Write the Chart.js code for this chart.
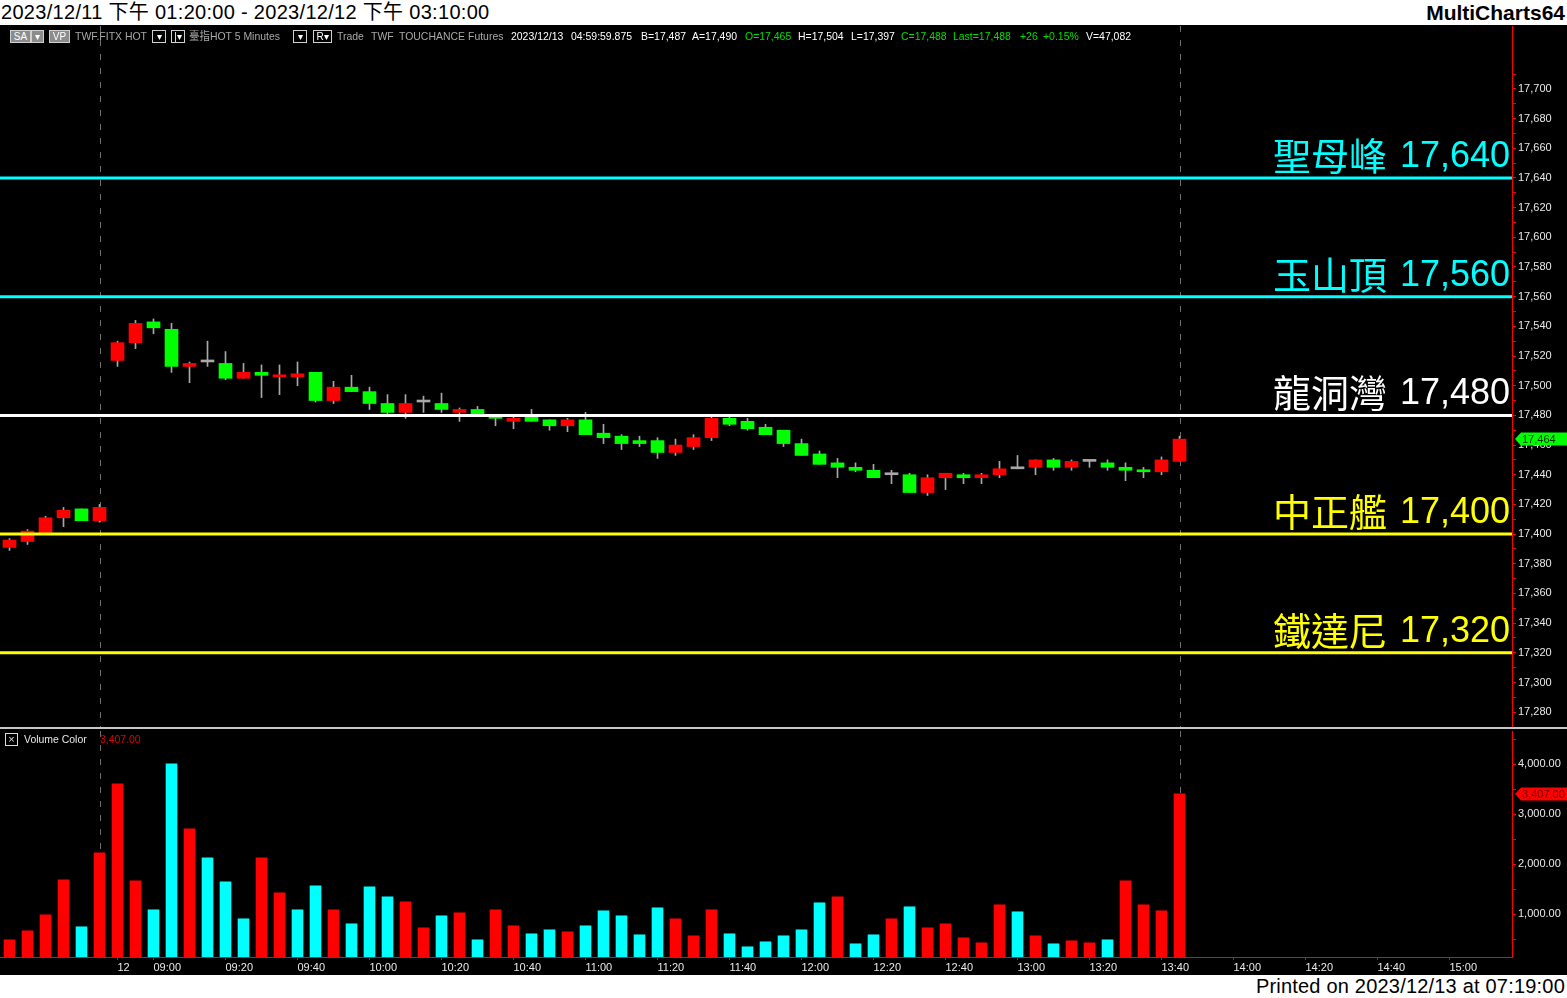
<!DOCTYPE html>
<html>
<head>
<meta charset="utf-8">
<script src="https://cdn.jsdelivr.net/npm/chart.js@4.4.0/dist/chart.umd.min.js"></script>
<style>
body { margin:0; width:1567px; height:998px; background:#fff; position:relative; overflow:hidden; font-family:'Liberation Sans', Arial, sans-serif; }
#title { position:absolute; left:1px; top:0; height:25px; line-height:25px; font-size:20px; letter-spacing:0.3px; color:#000; font-family:'Liberation Sans','Noto Sans CJK TC',sans-serif; }
#brand { position:absolute; right:2px; top:0; height:25px; line-height:25px; font-size:21px; font-weight:bold; color:#000; }
#main { position:absolute; left:0; top:25px; width:1567px; height:950px; background:#000; }
#footer { position:absolute; right:2px; top:975px; height:23px; line-height:23px; font-size:20px; letter-spacing:0.2px; color:#000; }
canvas { position:absolute; left:0; }
#priceCanvas { top:25px; }
#volCanvas { top:729px; }
#sep { position:absolute; left:0; top:727px; width:1567px; height:2px; background:#c8c8c8; }
.info { position:absolute; top:30px; height:13px; line-height:13px; font-size:11px; white-space:nowrap; transform:scaleX(0.95); transform-origin:left center; font-family:'Liberation Sans','Noto Sans CJK TC',sans-serif; }
.box { position:absolute; top:30px; height:11px; line-height:11px; font-size:10px; text-align:center; border:1px solid #d0d0d0; color:#fff; }
</style>
</head>
<body>
<div id="title">2023/12/11 下午 01:20:00 - 2023/12/12 下午 03:10:00</div>
<div id="brand">MultiCharts64</div>
<div id="main"></div>
<canvas id="priceCanvas" width="1567" height="704"></canvas>
<div id="sep"></div>
<canvas id="volCanvas" width="1567" height="246"></canvas>
<div id="footer">Printed on 2023/12/13 at 07:19:00</div>
<div id="overlay"></div>
<script>
// Data candle 5 menit (11/12 sore + sesi 12/12)
const opens  = [17391,17395,17401,17411,17417,17409,17517,17529,17543,17538,17513,17516,17515,17505,17509,17506,17506,17509,17490,17499,17496,17488,17482,17489,17488,17482,17484,17480,17476,17479,17477,17473,17477,17468,17466,17463,17463,17455,17459,17465,17478,17476,17472,17470,17461,17454,17448,17445,17443,17440,17440,17428,17438,17440,17438,17440,17444,17445,17450,17445,17449,17448,17445,17443,17442,17449];
const highs  = [17397,17403,17412,17418,17417,17420,17530,17544,17545,17542,17516,17530,17523,17515,17514,17514,17516,17509,17503,17507,17499,17494,17494,17493,17495,17485,17486,17480,17479,17484,17477,17478,17482,17474,17467,17466,17465,17464,17467,17479,17479,17478,17474,17470,17464,17456,17451,17448,17447,17443,17441,17440,17441,17441,17441,17449,17453,17450,17451,17450,17450,17450,17448,17445,17452,17466];
const lows   = [17389,17393,17400,17405,17409,17408,17513,17525,17535,17509,17502,17513,17504,17505,17492,17494,17500,17489,17488,17496,17484,17481,17478,17482,17482,17476,17480,17473,17471,17476,17470,17469,17467,17461,17457,17459,17451,17453,17457,17463,17473,17470,17467,17459,17453,17447,17438,17442,17438,17434,17428,17426,17430,17434,17434,17438,17444,17440,17443,17443,17445,17443,17436,17438,17440,17449];
const closes = [17396,17402,17411,17416,17409,17418,17529,17542,17539,17513,17515,17516,17505,17509,17507,17507,17508,17490,17499,17496,17488,17482,17488,17489,17484,17484,17481,17478,17478,17476,17473,17477,17467,17465,17461,17461,17455,17460,17465,17478,17474,17471,17467,17461,17453,17447,17445,17443,17438,17440,17428,17438,17441,17438,17440,17444,17444,17450,17445,17449,17449,17445,17443,17442,17450,17464];

// Volume dan warnanya (r = merah, c = cyan)
const volumes  = [490,670,990,1690,750,2230,3610,1670,1090,4010,2710,2130,1650,910,2130,1430,1090,1570,1090,810,1550,1350,1250,730,970,1030,490,1090,770,610,690,650,770,1070,970,590,1130,910,570,1090,610,350,450,570,690,1230,1350,410,590,910,1150,730,810,530,430,1190,1050,570,410,470,430,490,1670,1190,1070,3407];
const volColor = ['r','r','r','r','c','r','r','r','c','c','r','c','c','c','r','r','c','c','r','c','c','c','r','r','c','r','c','r','r','c','c','r','c','c','c','c','c','r','r','r','c','c','c','c','c','c','r','c','c','r','c','r','r','r','r','r','c','r','c','r','r','c','r','r','r','r'];

// Label sumbu waktu dan posisi bar-nya
const timeLabels = ['12','09:00','09:20','09:40','10:00','10:20','10:40','11:00','11:20','11:40','12:00','12:20','12:40','13:00','13:20','13:40','14:00','14:20','14:40','15:00'];
const timeTickIdx = [6,8,12,16,20,24,28,32,36,40,44,48,52,56,60,64,68,72,76,80];

// Garis level harga
const levelNames  = ['聖母峰','玉山頂','龍洞灣','中正艦','鐵達尼'];
const levelValues = [17640,17560,17480,17400,17320];
const levelColors = ['#00ffff','#00ffff','#ffffff','#ffff00','#ffff00'];

// Tick sumbu harga dan volume
const priceTicks = [17280,17300,17320,17340,17360,17380,17400,17420,17440,17460,17480,17500,17520,17540,17560,17580,17600,17620,17640,17660,17680,17700];
const volTicks = [1000,2000,3000,4000];

const sessionBreakIdx = 5;
const lastIdx = closes.length - 1;
const xMin = -0.528, xMax = 83.472;

// Header info line
const infoItems = [
    [75,'TWF.FITX HOT','#a8a8a8'], [189,'臺指HOT  5 Minutes','#a8a8a8'],
    [337,'Trade','#a8a8a8'], [371,'TWF','#a8a8a8'], [399,'TOUCHANCE','#a8a8a8'], [468,'Futures','#a8a8a8'],
    [511,'2023/12/13','#fff'], [571,'04:59:59.875','#fff'], [641,'B=17,487','#fff'], [692,'A=17,490','#fff'],
    [745,'O=17,465','#00e000'], [798,'H=17,504','#fff'], [851,'L=17,397','#fff'], [901,'C=17,488','#00e000'],
    [953,'Last=17,488','#00e000'], [1020,'+26','#00e000'], [1043,'+0.15%','#00e000'], [1086,'V=47,082','#fff']
];
const infoBoxes = [
    [10,19,'SA','#8c8c8c'], [31,11,'▾','#8c8c8c'], [49,19,'VP','#8c8c8c'],
    [152,12,'▾','#000'], [171,12,'|▾','#000'], [293,12,'▾','#000'], [313,17,'R▾','#000']
];
const overlay = document.getElementById('overlay');
infoItems.forEach(([x, t, c]) => {
    const s = document.createElement('div');
    s.className = 'info';
    s.style.left = x + 'px';
    s.style.color = c;
    s.textContent = t;
    overlay.appendChild(s);
});
infoBoxes.forEach(([x, w, t, bg]) => {
    const s = document.createElement('div');
    s.className = 'box';
    s.style.left = x + 'px';
    s.style.width = w + 'px';
    s.style.background = bg;
    s.textContent = t;
    overlay.appendChild(s);
});
overlay.insertAdjacentHTML('beforeend',
    '<div style="position:absolute;left:5px;top:733px;width:11px;height:11px;border:1px solid #ddd;color:#ddd;font-size:11px;line-height:11px;text-align:center">×</div>' +
    '<div class="info" style="top:733px;left:24px;color:#e8e8e8">Volume Color</div>' +
    '<div class="info" style="top:733px;left:100px;color:#e00000">3,407.00</div>');

const fmtPrice = v => v.toLocaleString('en-US');
const fmtVol = v => v.toLocaleString('en-US', { minimumFractionDigits: 2, maximumFractionDigits: 2 });

// Buang padding label supaya chart area pas
const noPad = s => { s.paddingTop = 0; s.paddingBottom = 0; s.paddingLeft = 0; s.paddingRight = 0; };

// Garis putus-putus vertikal
const dashPlugin = {
    id: 'dash',
    beforeDatasetsDraw(chart) {
        const { ctx, chartArea, scales } = chart;
        ctx.save();
        ctx.strokeStyle = '#6e6e6e';
        ctx.lineWidth = 1;
        ctx.setLineDash([6, 8]);
        [sessionBreakIdx, lastIdx].forEach(i => {
            const x = Math.round(scales.x.getPixelForValue(i)) + 0.5;
            ctx.beginPath();
            ctx.moveTo(x, chartArea.top);
            ctx.lineTo(x, chartArea.bottom);
            ctx.stroke();
        });
        ctx.restore();
    }
};

function drawMarker(ctx, x, y, text, bg, fg) {
    ctx.save();
    ctx.fillStyle = bg;
    ctx.beginPath();
    ctx.moveTo(x + 3, y);
    ctx.lineTo(x + 9, y - 6.5);
    ctx.lineTo(x + 55, y - 6.5);
    ctx.lineTo(x + 55, y + 6.5);
    ctx.lineTo(x + 9, y + 6.5);
    ctx.closePath();
    ctx.fill();
    ctx.fillStyle = fg;
    ctx.font = '11px "Liberation Sans", Arial';
    ctx.textBaseline = 'middle';
    ctx.textAlign = 'left';
    ctx.fillText(text, x + 10, y + 1);
    ctx.restore();
}

// Label level + marker harga terakhir
const levelPlugin = {
    id: 'levels',
    afterDatasetsDraw(chart) {
        const { ctx, chartArea, scales } = chart;
        ctx.save();
        levelValues.forEach((v, k) => {
            const y = scales.y.getPixelForValue(v);
            const num = fmtPrice(v);
            ctx.fillStyle = levelColors[k];
            ctx.textAlign = 'right';
            ctx.textBaseline = 'alphabetic';
            ctx.font = '36px "Liberation Sans", Arial';
            const right = chartArea.right - 2;
            ctx.fillText(num, right, y - 11);
            const w = ctx.measureText(num).width;
            ctx.font = '38px "Noto Sans CJK TC"';
            ctx.fillText(levelNames[k], right - w - 13, y - 8);
        });
        ctx.restore();
    },
    afterDraw(chart) {
        const y = chart.scales.y.getPixelForValue(closes[lastIdx]);
        drawMarker(chart.ctx, chart.chartArea.right, y, fmtPrice(closes[lastIdx]), '#00ff00', '#003000');
    }
};

const volMarkerPlugin = {
    id: 'volMarker',
    afterDraw(chart) {
        const y = chart.scales.y.getPixelForValue(volumes[lastIdx]);
        drawMarker(chart.ctx, chart.chartArea.right, y, fmtVol(volumes[lastIdx]), '#ff0000', '#700000');
    }
};

const idx = closes.map((_, i) => i);
const bodyColors = idx.map(i => closes[i] > opens[i] ? '#ff0000' : (closes[i] < opens[i] ? '#00ff00' : '#a8a8a8'));

const levelDatasets = levelValues.map((v, k) => ({
    type: 'line',
    data: [{ x: xMin, y: v }, { x: xMax, y: v }],
    borderColor: levelColors[k],
    borderWidth: 3,
    pointRadius: 0,
    order: 0
}));

// Chart harga
new Chart(document.getElementById('priceCanvas'), {
    type: 'bar',
    data: {
        datasets: [
            ...levelDatasets,
            {
                data: idx.map(i => ({ x: i, y: [lows[i], highs[i]] })),
                backgroundColor: '#a8a8a8',
                barThickness: 1,
                grouped: false,
                order: 2
            },
            {
                data: idx.map(i => ({ x: i, y: [opens[i], closes[i]] })),
                backgroundColor: bodyColors,
                barThickness: 13,
                minBarLength: 2,
                grouped: false,
                order: 1
            }
        ]
    },
    options: {
        responsive: false,
        animation: false,
        events: [],
        layout: { padding: { top: 1, bottom: 2, left: 0, right: 0 } },
        plugins: { legend: { display: false }, tooltip: { enabled: false } },
        scales: {
            x: { type: 'linear', min: xMin, max: xMax, display: false, offset: false, grid: { offset: false } },
            y: {
                position: 'right',
                min: 17270,
                max: 17742.4,
                afterFit: s => { s.width = 55; noPad(s); },
                afterBuildTicks: s => {
                    const t = [];
                    priceTicks.forEach(v => { t.push({ value: v }); t.push({ value: v + 10 }); });
                    s.ticks = t;
                },
                ticks: {
                    autoSkip: false,
                    color: '#e8e8e8',
                    padding: 2,
                    font: { size: 11, family: '"Liberation Sans", Arial' },
                    callback: v => priceTicks.includes(v) ? fmtPrice(v) : ''
                },
                grid: { drawOnChartArea: false, color: '#ff0000', tickLength: 4 },
                border: { color: '#ff0000', width: 1 }
            }
        }
    },
    plugins: [dashPlugin, levelPlugin]
});

// Chart volume
new Chart(document.getElementById('volCanvas'), {
    type: 'bar',
    data: {
        datasets: [{
            data: idx.map(i => ({ x: i, y: volumes[i] })),
            backgroundColor: volColor.map(c => c === 'r' ? '#ff0000' : '#00ffff'),
            barThickness: 11,
            grouped: false
        }]
    },
    options: {
        responsive: false,
        animation: false,
        events: [],
        layout: { padding: { top: 2, bottom: 0, left: 0, right: 0 } },
        plugins: { legend: { display: false }, tooltip: { enabled: false } },
        scales: {
            x: {
                type: 'linear', min: xMin, max: xMax, offset: false,
                afterFit: s => { s.height = 18; noPad(s); },
                afterBuildTicks: s => { s.ticks = timeTickIdx.map(v => ({ value: v })); },
                ticks: {
                    autoSkip: false, maxRotation: 0, align: 'start', padding: 1,
                    color: '#e8e8e8',
                    font: { size: 11, family: '"Liberation Sans", Arial' },
                    callback: v => timeLabels[timeTickIdx.indexOf(v)]
                },
                grid: { drawOnChartArea: false, offset: false, color: '#ff0000', tickLength: 3 },
                border: { color: '#ff0000', width: 1 }
            },
            y: {
                position: 'right',
                min: 146,
                max: 4666,
                afterFit: s => { s.width = 55; noPad(s); },
                afterBuildTicks: s => {
                    const t = [];
                    volTicks.forEach(v => { t.push({ value: v - 500 }); t.push({ value: v }); });
                    t.push({ value: 4500 });
                    s.ticks = t;
                },
                ticks: {
                    autoSkip: false,
                    color: '#e8e8e8',
                    padding: 2,
                    font: { size: 11, family: '"Liberation Sans", Arial' },
                    callback: v => volTicks.includes(v) ? fmtVol(v) : ''
                },
                grid: { drawOnChartArea: false, color: '#ff0000', tickLength: 4 },
                border: { color: '#ff0000', width: 1 }
            }
        }
    },
    plugins: [dashPlugin, volMarkerPlugin]
});
</script>
</body>
</html>
